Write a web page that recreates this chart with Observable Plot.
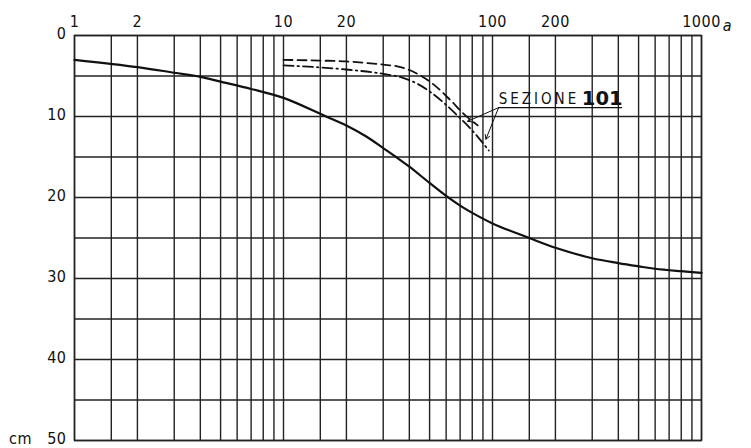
<!DOCTYPE html>
<html>
<head>
<meta charset="utf-8">
<script src="https://cdn.jsdelivr.net/npm/d3@7"></script>
<script src="https://cdn.jsdelivr.net/npm/@observablehq/plot@0.6"></script>
<style>
  body { margin: 0; background: #fff; }
  g[aria-label="x-axis tick label"] text, g[aria-label="y-axis tick label"] text { letter-spacing: 0.5px; }
</style>
</head>
<body>
<div id="chart"></div>
<script>
// Settlement (cm) against time on a logarithmic scale
const solidTime  = [1, 2, 3, 4, 5, 7, 10, 16, 20, 25, 30, 35, 40, 50, 60, 70, 80, 100, 150, 200, 300, 400, 500, 600, 800, 1000];
const solidDepth = [3.0, 3.9, 4.6, 5.1, 5.7, 6.6, 7.7, 10.0, 11.1, 12.5, 13.9, 15.1, 16.2, 18.2, 19.8, 21.0, 21.9, 23.2, 25.0, 26.2, 27.5, 28.1, 28.5, 28.8, 29.1, 29.3];

const dashedTime  = [10, 15, 20, 30, 35, 42, 52, 63, 73, 85];
const dashedDepth = [3.0, 3.1, 3.2, 3.6, 3.8, 4.5, 6.0, 8.0, 9.7, 11.1];

const dashDotTime  = [10, 20, 31, 37, 44, 59, 68, 78.5, 96];
const dashDotDepth = [3.7, 4.2, 4.8, 5.2, 6.0, 8.4, 9.9, 11.5, 14.2];

// Grid and tick labels
const xGrid = [1, 1.5, 2, 3, 4, 5, 6, 7, 8, 9,
               10, 15, 20, 30, 40, 50, 60, 70, 80, 90,
               100, 150, 200, 300, 400, 500, 600, 700, 800, 900, 1000];
const yGrid = [0, 5, 10, 15, 20, 25, 30, 35, 40, 45, 50];
const xTickLabels = [1, 2, 10, 20, 100, 200, 1000];
const yTickLabels = [0, 10, 20, 30, 40, 50];
const xUnit = "a";
const yUnit = "cm";

// Section label: underlined text with leaders to the two broken curves
const sectionName = "SEZIONE";
const sectionNumber = "101";
const sectionLabel = [{t0: 107, t1: 419, d: 8.9}];
const leaderTargets = [{t: 76, d: 10.6}, {t: 93, d: 12.8}];

const zip = (ts, ds) => ts.map((t, i) => ({t, d: ds[i]}));
const solid = zip(solidTime, solidDepth);
const dashed = zip(dashedTime, dashedDepth);
const dashDot = zip(dashDotTime, dashDotDepth);
const leaders = leaderTargets.map(p => ({t0: sectionLabel[0].t0, d0: sectionLabel[0].d, t: p.t, d: p.d}));

const font = "'DejaVu Sans Condensed', 'DejaVu Sans', sans-serif";
const ink = "#111";
const gridInk = "#222";

const chart = Plot.plot({
  width: 751,
  height: 448,
  marginLeft: 74,
  marginRight: 50,
  marginTop: 35,
  marginBottom: 8,
  style: {fontFamily: font, fontSize: "16px", color: ink, background: "#fff"},
  x: {
    type: "log",
    domain: [1, 1000],
    axis: "top",
    ticks: xTickLabels,
    tickFormat: d => String(d),
    tickSize: 0,
    tickPadding: 9,
    label: null
  },
  y: {
    domain: [0, 50],
    reverse: true,
    ticks: yTickLabels,
    tickFormat: d => d === 50 ? `${yUnit}\u00a0\u00a0\u00a0${d}` : String(d),
    tickSize: 0,
    tickPadding: 8,
    label: null
  },
  marks: [
    Plot.ruleX(xGrid, {stroke: gridInk, strokeWidth: 1.4}),
    Plot.ruleY(yGrid, {stroke: gridInk, strokeWidth: 1.4}),
    Plot.frame({stroke: gridInk, strokeWidth: 1.5}),
    Plot.line(solid, {x: "t", y: "d", stroke: ink, strokeWidth: 2.2, curve: "catmull-rom"}),
    Plot.line(dashed, {x: "t", y: "d", stroke: ink, strokeWidth: 1.8, strokeDasharray: "9,5", curve: "monotone-x"}),
    Plot.line(dashDot, {x: "t", y: "d", stroke: ink, strokeWidth: 1.8, strokeDasharray: "10,4,1.5,4", curve: "monotone-x"}),
    Plot.arrow(leaders, {x1: "t0", y1: "d0", x2: "t", y2: "d", stroke: ink, strokeWidth: 1, headLength: 7, bend: 0}),
    Plot.ruleY(sectionLabel, {y: "d", x1: "t0", x2: "t1", stroke: ink, strokeWidth: 1.3}),
    Plot.text(sectionLabel, {x: "t0", y: "d", text: () => sectionName, textAnchor: "start", lineAnchor: "bottom", dy: -4, fontSize: 15, fill: ink}),
    Plot.text(sectionLabel, {x: "t1", y: "d", text: () => sectionNumber, textAnchor: "end", lineAnchor: "bottom", dy: -3, fontSize: 19.5, fontWeight: "bold", fontFamily: "'DejaVu Sans', sans-serif", fill: ink}),
    Plot.text([xUnit], {frameAnchor: "top-right", text: d => d, dx: 30, dy: -16, fontStyle: "italic", fontSize: 16, fill: ink})
  ]
});

// Wide letter spacing on the section name, and y tick labels nudged up slightly
const svg = d3.select(chart);
svg.selectAll("text").filter(function() { return this.textContent === sectionName; })
  .style("letter-spacing", "3px");
svg.selectAll('g[aria-label="y-axis tick label"] text').attr("dy", "-0.12em");

document.getElementById("chart").appendChild(chart);
</script>
</body>
</html>
